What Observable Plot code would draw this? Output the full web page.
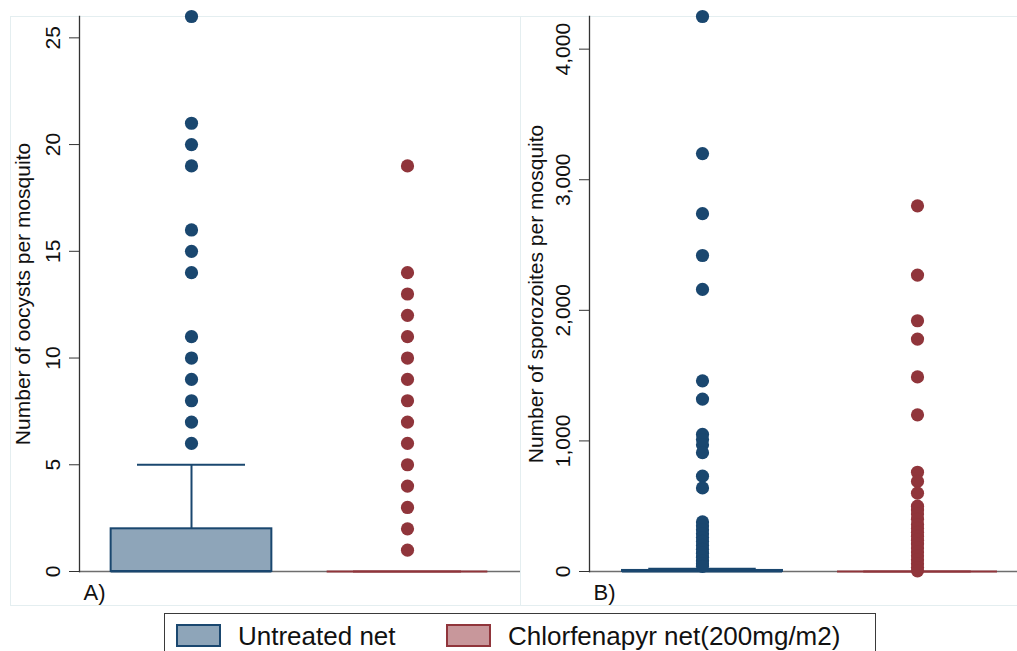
<!DOCTYPE html>
<html>
<head>
<meta charset="utf-8">
<script src="https://cdn.jsdelivr.net/npm/d3@7"></script>
<script src="https://cdn.jsdelivr.net/npm/@observablehq/plot@0.6"></script>
<style>
  html, body { margin: 0; padding: 0; background: #fff; }
  body { width: 1017px; height: 651px; position: relative; overflow: hidden; font-family: "Liberation Sans", Arial, sans-serif; }
  .panel { position: absolute; top: 0; }
  .pbox { position: absolute; border: 1px solid #e4eef0; box-sizing: border-box; }
  #legend { position: absolute; left: 164px; top: 613px; width: 712px; height: 60px; border: 1.5px solid #3a3a3a; box-sizing: border-box; background: #fff; }
  .item { position: absolute; top: 0; display: flex; align-items: flex-start; }
  .sw { width: 45px; height: 23px; box-sizing: border-box; border: 2px solid; margin-top: 10px; }
  .lab { font-size: 26px; color: #111; margin-left: 17px; line-height: 26px; margin-top: 9px; white-space: nowrap; }
</style>
</head>
<body>
<div class="pbox" style="left:10px;top:16px;width:511px;height:590px"></div>
<div class="pbox" style="left:520px;top:16px;width:510px;height:590px"></div>
<div id="A" class="panel" style="left:10px"></div>
<div id="B" class="panel" style="left:521px"></div>
<div id="legend"></div>
<script>
// ---------- data ----------
const categories = ["Untreated net", "Chlorfenapyr net(200mg/m2)"];

// Panel A: oocysts per mosquito (box summaries per category)
const oocystQ1 = [0, 0];
const oocystMedian = [0, 0];
const oocystQ3 = [2, 0];
const oocystUpperWhisker = [5, 0];
const oocystOutliersUntreated = [6, 7, 8, 9, 10, 11, 14, 15, 16, 19, 20, 21, 26];
const oocystOutliersChlorfenapyr = [1, 2, 3, 4, 5, 6, 7, 8, 9, 10, 11, 12, 13, 14, 19];
const oocystTicks = [0, 5, 10, 15, 20, 25];

// Panel B: sporozoites per mosquito
const sporoQ1 = [0, 0];
const sporoMedian = [0, 0];
const sporoQ3 = [8, 0];
const sporoUpperWhisker = [22, 0];
const sporoOutliersUntreated = [4250, 3200, 2740, 2420, 2160, 1460, 1320, 1050, 1010, 970, 910, 730, 640,
  380, 350, 320, 290, 260, 230, 200, 170, 140, 110, 80, 60, 40];
const sporoOutliersChlorfenapyr = [2800, 2270, 1920, 1780, 1490, 1200, 760, 690, 600, 500, 470, 440, 400,
  360, 330, 300, 270, 240, 210, 180, 150, 120, 90, 60, 30, 5];
const sporoTicks = [0, 1000, 2000, 3000, 4000];

// ---------- styles ----------
const dark = ["#1a476f", "#90353b"];
const light = ["#8ea5b9", "#c8979b"];
const FONT = "Liberation Sans, Arial, sans-serif";

function panel({q1, med, q3, up, outs, ticks, ymax, label, tag, width, marginLeft, xdomain, fmt, labelDx}) {
  const boxes = categories.map((c, i) => ({cat: c, i, pos: i + 1, q1: q1[i], med: med[i], q3: q3[i], up: up[i]}));
  const pts = [];
  outs.forEach((arr, i) => arr.forEach(v => pts.push({cat: categories[i], i, pos: i + 1, v})));
  const bw = 0.372, cw = 0.25;
  return Plot.plot({
    width, height: 605,
    marginTop: 16, marginBottom: 34, marginLeft, marginRight: 0,
    style: {fontFamily: FONT, background: "transparent", overflow: "visible"},
    x: {domain: xdomain, axis: null},
    y: {domain: [0, ymax], axis: null},
    marks: [
      Plot.ruleY([0], {stroke: "#6e6e6e", strokeWidth: 1.6}),
      Plot.axisY({ticks, tickSize: 10, tickRotate: -90, tickPadding: 10, fontSize: 21, stroke: "#333",
        tickFormat: fmt, label: null, color: "#111"}),
      Plot.frame({anchor: "left", stroke: "#333", strokeWidth: 1.3}),
      Plot.ruleX(boxes, {x: "pos", y1: "q3", y2: "up", stroke: (d) => dark[d.i], strokeWidth: 2}),
      Plot.ruleY(boxes, {y: "up", x1: (d) => d.pos - cw, x2: (d) => d.pos + cw, stroke: (d) => dark[d.i], strokeWidth: 2}),
      Plot.rect(boxes.filter(d => d.q3 > d.q1), {x1: (d) => d.pos - bw, x2: (d) => d.pos + bw, y1: "q1", y2: "q3",
        fill: (d) => light[d.i], stroke: (d) => dark[d.i], strokeWidth: 2}),
      Plot.ruleY(boxes, {y: "med", x1: (d) => d.pos - bw, x2: (d) => d.pos + bw, stroke: (d) => dark[d.i], strokeWidth: 2.2}),
      Plot.dot(pts, {x: "pos", y: "v", r: 6.6, fill: (d) => dark[d.i], stroke: "none"}),
      Plot.text([label], {frameAnchor: "left", text: (d) => d, rotate: -90, dx: labelDx, fontSize: 21,
        textAnchor: "middle", lineAnchor: "middle", fill: "#111"}),
      Plot.text([tag], {frameAnchor: "bottom-left", text: (d) => d, dx: 4, dy: 21, fontSize: 22,
        textAnchor: "start", lineAnchor: "middle", fill: "#111"})
    ]
  });
}

const A = panel({q1: oocystQ1, med: oocystMedian, q3: oocystQ3, up: oocystUpperWhisker,
  outs: [oocystOutliersUntreated, oocystOutliersChlorfenapyr], ticks: oocystTicks, ymax: 26,
  label: "Number of oocysts per mosquito", tag: "A)", width: 510, marginLeft: 69,
  xdomain: [1 - 112 / 216, 2 + 113 / 216], fmt: d3.format("d"), labelDx: -56});
document.getElementById("A").appendChild(A);

const B = panel({q1: sporoQ1, med: sporoMedian, q3: sporoQ3, up: sporoUpperWhisker,
  outs: [sporoOutliersUntreated, sporoOutliersChlorfenapyr], ticks: sporoTicks, ymax: 4250,
  label: "Number of sporozoites per mosquito", tag: "B)", width: 496, marginLeft: 68,
  xdomain: [1 - 113 / 215, 2 + 100 / 215], fmt: d3.format(","), labelDx: -53});
document.getElementById("B").appendChild(B);

// legend
const lg = document.getElementById("legend");
const lefts = [11, 281];
categories.forEach((c, i) => {
  const it = document.createElement("div");
  it.className = "item";
  it.style.left = lefts[i] + "px";
  const sw = document.createElement("div");
  sw.className = "sw";
  sw.style.background = light[i];
  sw.style.borderColor = dark[i];
  const t = document.createElement("div");
  t.className = "lab";
  t.textContent = c;
  it.appendChild(sw); it.appendChild(t);
  lg.appendChild(it);
});
</script>
</body>
</html>
